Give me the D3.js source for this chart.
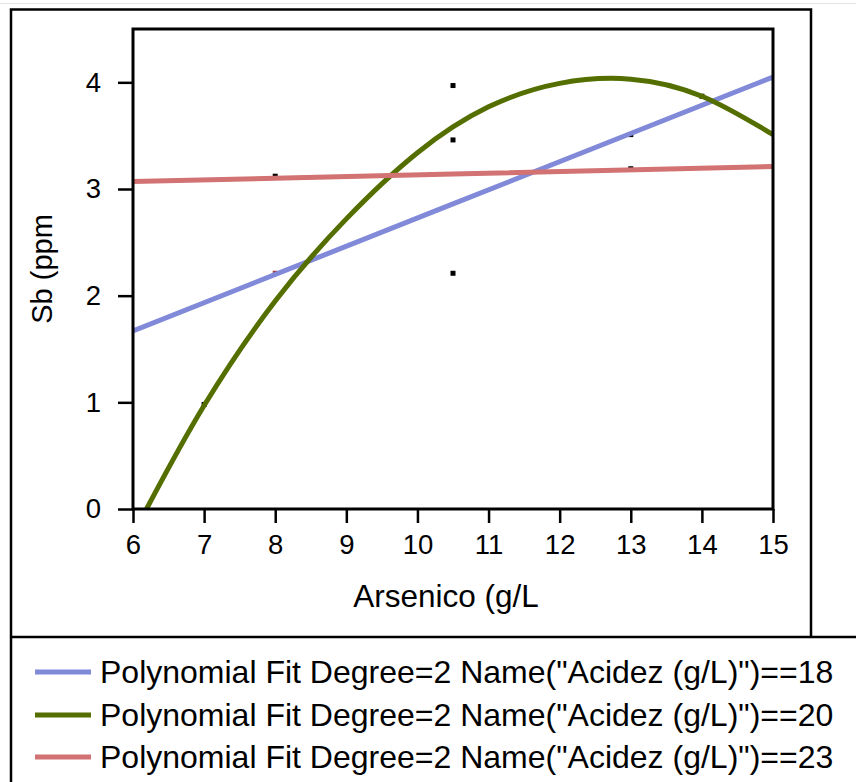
<!DOCTYPE html>
<html>
<head>
<meta charset="utf-8">
<script src="https://cdn.jsdelivr.net/npm/d3@7"></script>
<style>
  html, body { margin: 0; padding: 0; background: #fff; }
  svg { display: block; }
  text { font-family: "Liberation Sans", Arial, sans-serif; fill: #000; }
</style>
</head>
<body>
<svg id="chart" width="856" height="782"></svg>
<script>
// ---- data ----
const xTicks = [6, 7, 8, 9, 10, 11, 12, 13, 14, 15];
const yTicks = [0, 1, 2, 3, 4];
const xTitle = "Arsenico (g/L";
const yTitle = "Sb (ppm";

const pointX = [7, 8, 8, 10.5, 10.5, 10.5, 13, 13, 14];
const pointY = [0.98, 2.21, 3.12, 3.97, 3.46, 2.21, 3.51, 3.19, 3.87];

const fit18X = [6, 10.5, 15];
const fit18Y = [1.67, 2.86, 4.05];
const fit20X = [6.19, 7, 8, 9, 10, 11, 12, 13, 14, 15];
const fit20Y = [0, 0.97, 1.95, 2.72, 3.34, 3.77, 3.99, 4.03, 3.87, 3.51];
const fit23X = [6, 10.5, 15];
const fit23Y = [3.07, 3.14, 3.21];

const seriesNames = [
  'Polynomial Fit Degree=2 Name("Acidez (g/L)")==18',
  'Polynomial Fit Degree=2 Name("Acidez (g/L)")==20',
  'Polynomial Fit Degree=2 Name("Acidez (g/L)")==23'
];
const seriesColors = ["#8189d9", "#546f00", "#d27272"];

// ---- layout ----
const svg = d3.select("#chart");
const W = 856, H = 782;
const plot = { left: 133, right: 773, top: 29, bottom: 509 };

const x = d3.scaleLinear().domain([6, 15]).range([plot.left, plot.right]);
const y = d3.scaleLinear().domain([0, 4.5]).range([plot.bottom, plot.top]);

// faint top line
svg.append("line").attr("x1", 0).attr("x2", W).attr("y1", 3.5).attr("y2", 3.5)
  .attr("stroke", "#e4e4e4").attr("stroke-width", 1);

// outer frame
svg.append("path")
  .attr("d", `M11,637 L11,9.5 L811,9.5 L811,637`)
  .attr("fill", "none").attr("stroke", "#000").attr("stroke-width", 2.5);
svg.append("line").attr("x1", 11).attr("x2", W).attr("y1", 637).attr("y2", 637)
  .attr("stroke", "#000").attr("stroke-width", 2.5);
svg.append("line").attr("x1", 11).attr("x2", 11).attr("y1", 637).attr("y2", H)
  .attr("stroke", "#000").attr("stroke-width", 2.5);

// clip
svg.append("clipPath").attr("id", "clip").append("rect")
  .attr("x", plot.left).attr("y", plot.top)
  .attr("width", plot.right - plot.left).attr("height", plot.bottom - plot.top);

// axes
const xAxis = d3.axisBottom(x).tickValues(xTicks).tickSize(14).tickPadding(11).tickFormat(d3.format("d"));
const yAxis = d3.axisLeft(y).tickValues(yTicks).tickSize(15).tickPadding(17).tickFormat(d3.format("d"));

const gx = svg.append("g").attr("transform", `translate(0,${plot.bottom})`).call(xAxis);
const gy = svg.append("g").attr("transform", `translate(${plot.left},0)`).call(yAxis);
[gx, gy].forEach(g => {
  g.select(".domain").remove();
  g.selectAll(".tick line").attr("stroke", "#000").attr("stroke-width", 2.5);
  g.selectAll(".tick text").style("font-size", "27.5px").attr("fill", "#000")
    .style("font-family", '"Liberation Sans", Arial, sans-serif');
});

// points (beneath lines)
const pts = pointX.map((v, i) => ({ x: v, y: pointY[i] }));
svg.append("g").attr("clip-path", "url(#clip)")
  .selectAll("rect").data(pts).join("rect")
  .attr("x", d => x(d.x) - 2.5).attr("y", d => y(d.y) - 2.5)
  .attr("width", 5).attr("height", 5)
  .attr("fill", (d, i) => i === 1 ? "#a03a3a" : "#000");

// fit lines
const fits = [
  { X: fit18X, Y: fit18Y, curve: d3.curveLinear },
  { X: fit20X, Y: fit20Y, curve: d3.curveNatural },
  { X: fit23X, Y: fit23Y, curve: d3.curveLinear }
];
const lineGen = d3.line().x(d => x(d[0])).y(d => y(d[1]));
const gLines = svg.append("g").attr("clip-path", "url(#clip)");
fits.forEach((f, i) => {
  const data = f.X.map((v, j) => [v, f.Y[j]]);
  gLines.append("path")
    .attr("d", lineGen.curve(f.curve)(data))
    .attr("fill", "none")
    .attr("stroke", seriesColors[i])
    .attr("stroke-width", 5);
});

// plot frame
svg.append("rect")
  .attr("x", plot.left).attr("y", plot.top)
  .attr("width", plot.right - plot.left).attr("height", plot.bottom - plot.top)
  .attr("fill", "none").attr("stroke", "#000").attr("stroke-width", 3);

// axis titles
svg.append("text").attr("x", 446).attr("y", 607)
  .attr("text-anchor", "middle").style("font-size", "31.5px").text(xTitle);
svg.append("text")
  .attr("transform", `translate(52,${(plot.top + plot.bottom) / 2}) rotate(-90)`)
  .attr("text-anchor", "middle").style("font-size", "29px").text(yTitle);

// legend
const legendY = [672, 715, 757];
const lg = svg.append("g");
seriesNames.forEach((name, i) => {
  lg.append("line")
    .attr("x1", 35).attr("x2", 91)
    .attr("y1", legendY[i]).attr("y2", legendY[i])
    .attr("stroke", seriesColors[i]).attr("stroke-width", 5);
  lg.append("text").attr("x", 100).attr("y", legendY[i] + 11)
    .style("font-size", "32px").text(name);
});
</script>
</body>
</html>
